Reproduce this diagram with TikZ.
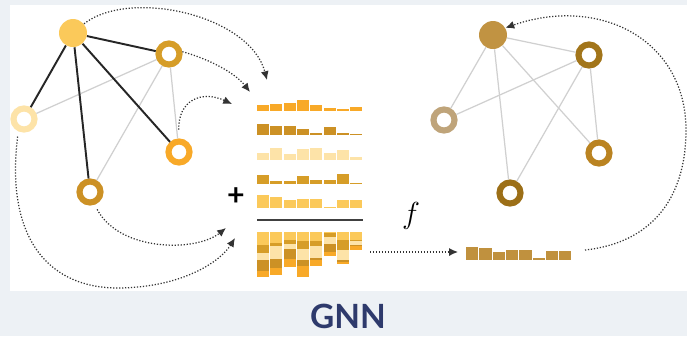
\documentclass[tikz,border=0pt]{standalone}
\usepackage{fontspec}
\newfontfamily\titlefont{Lato}
\usetikzlibrary{arrows.meta}

\definecolor{bgGray}{HTML}{EDF1F5}
\definecolor{cLight}{HTML}{FBC95A}
\definecolor{cGold}{HTML}{D69D28}
\definecolor{cPale}{HTML}{FDE3A8}
\definecolor{cOrange}{HTML}{F8A928}
\definecolor{cDark}{HTML}{CC9125}
\definecolor{rA}{HTML}{C19342}
\definecolor{rB}{HTML}{A2751A}
\definecolor{rC}{HTML}{BFA47A}
\definecolor{rD}{HTML}{BA8321}
\definecolor{rE}{HTML}{9C6F17}
\definecolor{cOut}{HTML}{C0913E}
\definecolor{edgeGray}{HTML}{D0D0D0}
\definecolor{titleBlue}{HTML}{2E3A6C}

\tikzset{
	hub/.style={circle, fill=#1, inner sep=0pt, minimum size=0.56cm},
	ring/.style={circle, draw=#1, fill=white, line width=3.5pt, inner sep=0pt, minimum size=0.42cm},
	bond/.style={line width=1.1pt, black!85},
	link/.style={line width=0.7pt, edgeGray},
	flow/.style={densely dotted, line width=0.7pt, black!80, -{Latex[length=5pt,width=4.5pt]}}
}

% bar heights of the five feature vectors (pixels)
\def\hA{{6,7,8,11,6,3.3,2,4.3}}
\def\hB{{11,9.3,9.3,5.7,1.7,8.3,2.3,1}}
\def\hC{{6.7,12.3,5.7,11,12.3,6.7,10,3.3}}
\def\hD{{8.7,3.3,3.3,7.7,4.3,4.3,9.7,1}}
\def\hE{{12.7,11,8.3,9.3,9.3,1,8.3,8.3}}
\def\hOut{{13.3,11.7,8.3,10,10,2.3,9,9}}

\begin{document}
\begin{tikzpicture}[x=0.02cm, y=-0.02cm]
		\useasboundingbox (0,0) rectangle (687,336);
		\fill[bgGray] (0,0) rectangle (687,336);
		\fill[white] (10,5) rectangle (687,291);

		% input graph
		\node[hub=cLight] (a) at (73,33) {};
		\node[ring=cGold] (b) at (169,54) {};
		\node[ring=cPale] (c) at (24,119) {};
		\node[ring=cOrange] (d) at (179,152) {};
		\node[ring=cDark] (e) at (90,192) {};

		\draw[link] (c) -- (b);
		\draw[link] (b) -- (e);
		\draw[link] (b) -- (d);
		\draw[bond] (a) -- (b);
		\draw[bond] (a) -- (c);
		\draw[bond] (a) -- (e);
		\draw[bond] (a) -- (d);

		% output graph
		\node[hub=rA] (a2) at (493,35) {};
		\node[ring=rB] (b2) at (589,55) {};
		\node[ring=rC] (c2) at (444,120) {};
		\node[ring=rD] (d2) at (599,153) {};
		\node[ring=rE] (e2) at (510,193) {};

		\draw[link] (a2) -- (b2);
		\draw[link] (a2) -- (c2);
		\draw[link] (a2) -- (e2);
		\draw[link] (a2) -- (d2);
		\draw[link] (c2) -- (b2);
		\draw[link] (b2) -- (e2);
		\draw[link] (b2) -- (d2);

		% feature vectors
		\foreach \rw/\yb/\cl in {\hA/111/cOrange, \hB/135/cDark, \hC/160/cPale, \hD/184/cGold, \hE/208/cLight}
			\foreach \i in {0,...,7} {
				\pgfmathsetmacro\h{\rw[\i]}
				\fill[\cl] (257+13.3*\i,\yb) rectangle ++(12,-\h);
			}
		\node[font=\titlefont\bfseries\LARGE] (plus) at (236,197) {+};
		\draw[line width=0.9pt, black!75] (257,220) -- (363,220);

		% summed vector
		\foreach \i in {0,...,7} {
			\xdef\ytop{232}
			\foreach \rw/\cl in {\hE/cLight, \hD/cGold, \hC/cPale, \hB/cDark, \hA/cOrange} {
				\pgfmathsetmacro\h{\rw[\i]}
				\fill[\cl] (257+13.3*\i,\ytop) rectangle ++(12,\h);
				\pgfmathsetmacro\ynew{\ytop+\h}
				\xdef\ytop{\ynew}
			}
		}

		% updated vector
		\foreach \i in {0,...,7} {
			\pgfmathsetmacro\h{\hOut[\i]}
			\fill[cOut] (466+13.3*\i,260) rectangle ++(12.3,-\h);
		}
		\node (fn) at (411,216) {\LARGE$f$};

		% message arrows
		\coordinate (inA) at (267,80);
		\coordinate (inB) at (250,92);
		\coordinate (inD) at (232,104);
		\coordinate (inE) at (226,228);
		\coordinate (inC) at (235,238);
		\coordinate (sumOut) at (370,252);
		\coordinate (vecIn) at (458,252);
		\coordinate (vecOut) at (585,250);

		\draw[flow] (a.40) .. controls (130,-12) and (250,15) .. (inA);
		\draw[flow] (b.10) .. controls (212,60) and (236,74) .. (inB);
		\draw[flow, shorten <=5pt] (d.north) .. controls (178,100) and (202,90) .. (inD);
		\draw[flow, shorten <=3pt] (e.-70) .. controls (120,252) and (196,252) .. (inE);
		\draw[flow, shorten <=3pt] (c.-115) .. controls (5,240) and (50,289) .. (120,288) .. controls (182,287) and (220,262) .. (inC);
		\draw[flow] (sumOut) -- (vecIn);
		\draw[flow] (vecOut) .. controls (650,243) and (686,200) .. (686,130) .. controls (686,40) and (600,-5) .. (a2.30);

		\node[font=\titlefont\bfseries\fontsize{19}{22}\selectfont, text=titleBlue] (title) at (348,316) {GNN};
	\end{tikzpicture}
\end{document}
